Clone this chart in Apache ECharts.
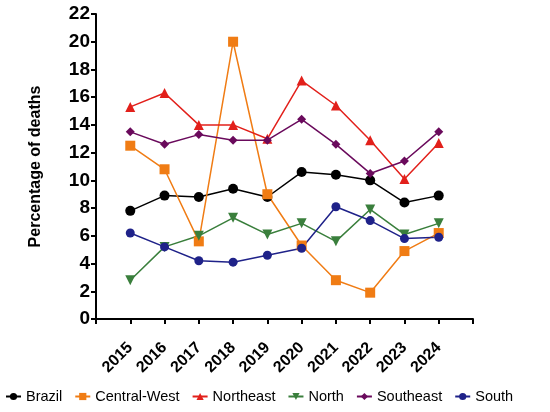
<!DOCTYPE html>
<html>
<head>
<meta charset="utf-8">
<title>Percentage of deaths by region</title>
<script src="https://cdn.jsdelivr.net/npm/echarts@6/dist/echarts.min.js"></script>
<style>
  html, body { margin: 0; padding: 0; background: #fff; }
  #chart { width: 550px; height: 412px; }
</style>
</head>
<body>
<div id="chart"></div>
<script>
var years = [2015, 2016, 2017, 2018, 2019, 2020, 2021, 2022, 2023, 2024];
var brazil      = [7.8, 8.9, 8.8, 9.4, 8.8, 10.6, 10.4, 10.0, 8.4, 8.9];
var centralWest = [12.5, 10.8, 5.6, 20.0, 9.0, 5.3, 2.8, 1.9, 4.9, 6.2];
var northeast   = [15.3, 16.3, 14.0, 14.0, 13.0, 17.2, 15.4, 12.9, 10.1, 12.7];
var north       = [2.8, 5.2, 6.0, 7.3, 6.1, 6.9, 5.6, 7.9, 6.1, 6.9];
var southeast   = [13.5, 12.6, 13.3, 12.9, 12.9, 14.4, 12.6, 10.5, 11.4, 13.5];
var south       = [6.2, 5.2, 4.2, 4.1, 4.6, 5.1, 8.1, 7.1, 5.8, 5.9];

var font = '"Liberation Sans", Arial, sans-serif';

function pairs(vals) {
  return vals.map(function (v, i) { return [years[i], v]; });
}

function makeSeries(name, vals, color, symbol, size, rotate) {
  return {
    name: name,
    type: 'line',
    data: pairs(vals),
    symbol: symbol,
    symbolSize: size,
    symbolRotate: rotate || 0,
    lineStyle: { color: color, width: 1.5 },
    itemStyle: { color: color },
    emphasis: { disabled: true }
  };
}

var chart = echarts.init(document.getElementById('chart'));
chart.setOption({
  animation: false,
  grid: { left: 96, right: 77, top: 14, bottom: 93, containLabel: false },
  legend: {
    bottom: 3,
    left: 0,
    itemWidth: 15,
    itemHeight: 9,
    itemGap: 12,
    textStyle: { fontFamily: font, fontSize: 14.5, color: '#000' },
    data: ['Brazil', 'Central-West', 'Northeast', 'North', 'Southeast', 'South']
  },
  xAxis: {
    type: 'value',
    min: 2014,
    max: 2025,
    interval: 1,
    splitLine: { show: false },
    axisLine: { show: true, lineStyle: { color: '#000', width: 2 } },
    axisTick: { show: true, length: 5, lineStyle: { color: '#000', width: 2 } },
    axisLabel: {
      rotate: 45,
      margin: 26,
      color: '#000',
      fontFamily: font,
      fontSize: 16,
      fontWeight: 'bold',
      formatter: function (v) {
        return (v === 2014 || v === 2025) ? '' : String(v);
      }
    }
  },
  yAxis: {
    type: 'value',
    min: 0,
    max: 22,
    interval: 2,
    name: 'Percentage of deaths',
    nameLocation: 'middle',
    nameGap: 52,
    nameTextStyle: { fontFamily: font, fontSize: 16, fontWeight: 'bold', color: '#000' },
    splitLine: { show: false },
    axisLine: { show: true, lineStyle: { color: '#000', width: 2 } },
    axisTick: { show: true, length: 5, lineStyle: { color: '#000', width: 2 } },
    axisLabel: {
      margin: 6,
      color: '#000',
      fontFamily: font,
      fontSize: 19,
      fontWeight: 'bold'
    }
  },
  series: [
    makeSeries('Brazil', brazil, '#000000', 'circle', 10),
    makeSeries('Central-West', centralWest, '#f07c14', 'rect', 10),
    makeSeries('Northeast', northeast, '#e2201b', 'triangle', 10),
    makeSeries('North', north, '#3a7f3c', 'triangle', 10, 180),
    makeSeries('Southeast', southeast, '#6a0a5c', 'diamond', 9),
    makeSeries('South', south, '#1f2289', 'circle', 9)
  ]
});
</script>
</body>
</html>
